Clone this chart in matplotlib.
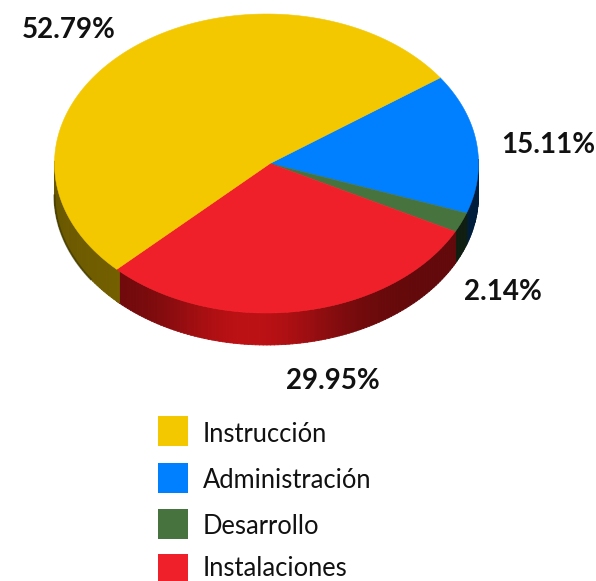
import numpy as np
import matplotlib
matplotlib.use("Agg")
import matplotlib.pyplot as plt
from matplotlib.patches import Rectangle

plt.rcParams['font.family'] = ['Lato', 'DejaVu Sans']

categories = ['Instrucción', 'Administración', 'Desarrollo', 'Instalaciones']
values = [52.79, 15.11, 2.14, 29.95]
colors = ['#f3c800', '#0080ff', '#47733f', '#f0202a']
value_labels = ['52.79%', '15.11%', '2.14%', '29.95%']

# pie geometry in image pixels
CX, CY = 266.5, 163.5
RX, RY = 212, 149.5
APEX_X = 270
DEPTH = 32
START = 35.0  # where the blue slice begins


def px(t):
    t = np.radians(t)
    return CX + RX * np.cos(t), CY - RY * np.sin(t)


def side_shade(t):
    # dark towards the ends, bright in front
    t = t % 360
    return 0.44 + 0.40 * np.exp(-((t - 265) / 24.0) ** 2) + 0.04 * np.exp(-((t - 215) / 25.0) ** 2)


fig = plt.figure(figsize=(5.96, 5.81), dpi=100)
ax = fig.add_axes([0, 0, 1, 1])
ax.set_xlim(0, 596)
ax.set_ylim(581, 0)
ax.axis('off')

# slices run clockwise starting with Administración
order = [1, 2, 3, 0]
sweeps = np.array(values) / sum(values) * 360
start = START
spans = {}
for i in order:
    spans[i] = (start, start - sweeps[i])
    start -= sweeps[i]

# side wall
side_colors = ['#e8c000', '#0070e0', '#3a7040', '#e01418']
for i in order:
    hi, lo = spans[i]
    rgb = np.array(matplotlib.colors.to_rgb(side_colors[i]))
    for t in np.arange(lo, hi, 1.0):
        if np.sin(np.radians(t + 0.5)) > 0.02:
            continue
        tt = np.array([t, t + 1.1])
        x, y = px(tt)
        k = side_shade(t)
        if i == 1 or i == 2:
            k = k * 0.6
        ax.fill([x[0], x[1], x[1], x[0]], [y[0], y[1], y[1] + DEPTH, y[0] + DEPTH],
                color=rgb * k, lw=0.6, zorder=2)

# darker rim at the far left of the wall
xs, ys = px(np.arange(180, 215, 1.0))
ax.plot(xs, ys + DEPTH, color='#3a3400', lw=1.5, alpha=0.6, zorder=2.5)

# top face
for i in order:
    hi, lo = spans[i]
    x, y = px(np.linspace(lo, hi, 120))
    ax.fill(np.r_[APEX_X, x], np.r_[CY, y], color=colors[i], lw=0.4, zorder=3)

# value labels
label_pos = [(69, 30), (548, 145), (503, 292), (333, 381)]
for text, (x, y) in zip(value_labels, label_pos):
    ax.text(x, y, text, fontsize=20, fontweight='bold', ha='center', va='center', color='#111111')

# legend
legend_y = [431, 478, 524, 569]
text_y = [435, 481, 527, 569]
for name, c, y, ty in zip(categories, colors, legend_y, text_y):
    ax.add_patch(Rectangle((158, y - 15), 30, 30, color=c, lw=0, zorder=4))
    ax.text(203, ty, name, fontsize=18.4, ha='left', va='center', color='#111111')

fig.savefig('out.png', dpi=100)
